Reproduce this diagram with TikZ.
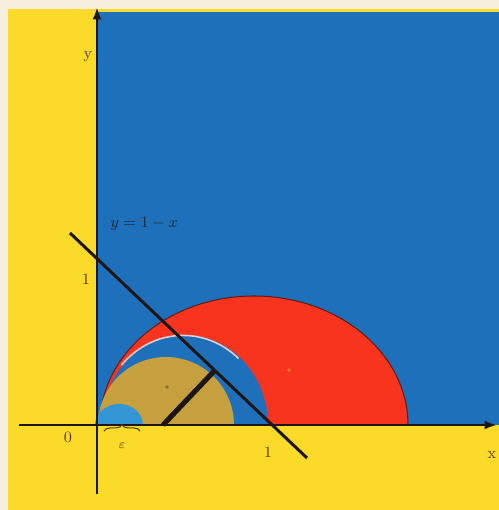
\documentclass[tikz,border=0pt]{standalone}
\usetikzlibrary{calc,decorations.pathreplacing,arrows.meta}
\definecolor{cream}{RGB}{246,238,222}
\definecolor{yel}{RGB}{251,218,42}
\definecolor{bgblue}{RGB}{30,112,186}
\definecolor{redc}{RGB}{248,52,30}
\definecolor{tanc}{RGB}{198,160,62}
\definecolor{lblue}{RGB}{52,150,212}
\definecolor{ink}{RGB}{30,22,20}
\definecolor{labc}{RGB}{90,60,35}
\definecolor{edgec}{RGB}{228,205,205}
\tikzset{
  axis/.style={draw=ink,line width=1.6pt,-{Latex[length=7pt,width=5pt]}},
  diag/.style={draw=ink,line width=1.7pt},
  radius seg/.style={draw=ink,line width=2.9pt},
  lab/.style={text=labc,font=\small,inner sep=0pt},
  eqlab/.style={text=ink!80!bgblue,font=\small,inner sep=0pt}
}
\begin{document}
\begin{tikzpicture}[x=0.02cm,y=-0.02cm]
\useasboundingbox (0,0) rectangle (499,510);
% backgrounds
\fill[cream] (0,0) rectangle (499,510);
\fill[yel] (8,9) rectangle (499,510);
\fill[bgblue] (97,12) rectangle (499,425);
% regions above the x axis
\begin{scope}
\clip (0,0) rectangle (499,425);
\fill[redc] (254,425) ellipse [x radius=154,y radius=129];
\draw[ink!70!redc,line width=0.6pt] (408,425) arc[start angle=0,end angle=-180,x radius=154,y radius=129];
\fill[bgblue] (185,425) ellipse [x radius=83,y radius=90];
\draw[edgec,line width=0.9pt] (121.4,365.2) arc[start angle=-138,end angle=-48,x radius=83,y radius=90];
\fill[tanc] (166,425) circle (68);
\fill[lblue] (119,425) ellipse [x radius=24,y radius=21];
\end{scope}
% specks
\fill[tanc!70!black] (167,387) circle (1.8);
\fill[redc!60!yel] (289,370) circle (1.8);
% line y = 1 - x
\coordinate (L1) at (70,233);
\coordinate (L2) at (307,458);
\coordinate (C) at (163,425);
\coordinate (T) at ($(L1)!(C)!(L2)$);
\draw[diag] (L1) -- (L2);
\draw[radius seg] (C) -- (T);
% axes
\coordinate (xs) at (19,425);
\coordinate (xe) at (497,425);
\coordinate (ys) at (97,494);
\coordinate (ye) at (97,7);
\draw[axis] (xs) -- (xe);
\draw[axis] (ys) -- (ye);
% brace
\coordinate (b1) at (104,431);
\coordinate (b2) at (140,431);
\draw[labc,line width=0.6pt,decorate,decoration={brace,amplitude=3.5pt}] (b1) -- (b2);
% labels
\node[lab] (ylab) at (88,57) {y};
\node[lab] (xlab) at (492,455) {x};
\node[lab] (olab) at (68,437) {0};
\node[lab] (y1) at (86,279) {1};
\node[lab] (x1) at (268,452) {1};
\node[lab,font=\scriptsize] (eps) at (122,446) {$\varepsilon$};
\node[eqlab,anchor=west] (eq) at (110,224) {$y = 1 - x$};
\end{tikzpicture}
\end{document}
